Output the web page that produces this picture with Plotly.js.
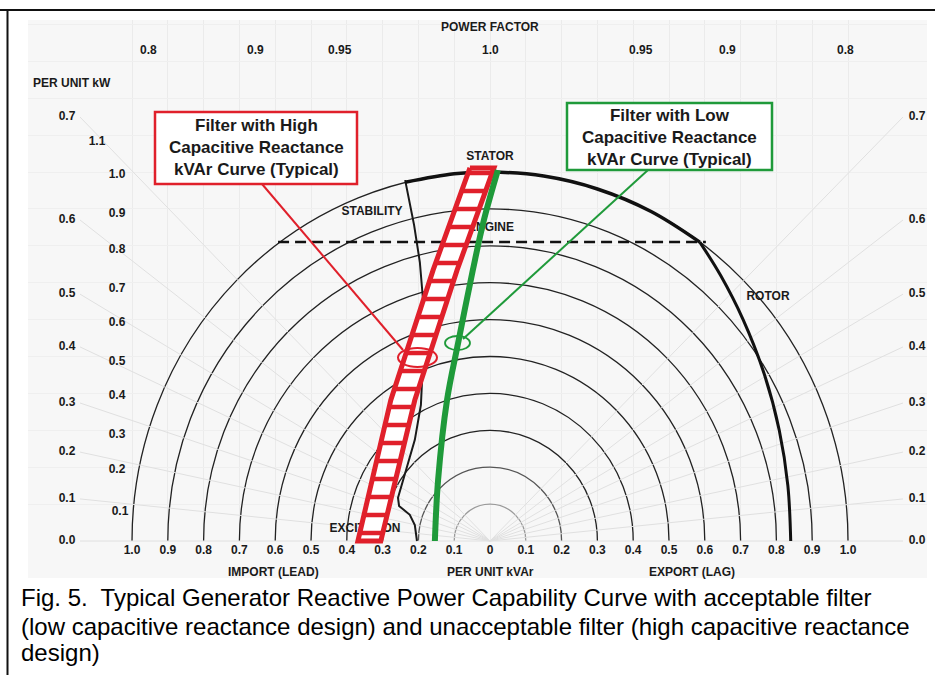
<!DOCTYPE html>
<html><head><meta charset="utf-8">
<script src="https://cdn.plot.ly/plotly-3.0.1.min.js"></script>
<style>html,body{margin:0;padding:0;background:#fff}#chart{width:935px;height:675px}</style>
</head><body><div id="chart"></div>
<script>
// ---------------- data (kVAr on x, kW on y, per unit) ----------------
const arcRadii = [0.1, 0.2, 0.3, 0.4, 0.5, 0.6, 0.7, 0.8, 0.9, 1.0];

const kvarTickVals = [-1.0, -0.9, -0.8, -0.7, -0.6, -0.5, -0.4, -0.3, -0.2, -0.1, 0, 0.1, 0.2, 0.3, 0.4, 0.5, 0.6, 0.7, 0.8, 0.9, 1.0];
const kvarTickText = ["1.0", "0.9", "0.8", "0.7", "0.6", "0.5", "0.4", "0.3", "0.2", "0.1", "0", "0.1", "0.2", "0.3", "0.4", "0.5", "0.6", "0.7", "0.8", "0.9", "1.0"];

const pfLabels = ["0.8", "0.9", "0.95", "1.0", "0.95", "0.9", "0.8"];
const pfLabelKvar = [-0.953, -0.654, -0.419, 0.0, 0.422, 0.662, 0.992];

const kwLabels = ["1.1", "1.0", "0.9", "0.8", "0.7", "0.6", "0.5", "0.4", "0.3", "0.2", "0.1"];
const kwLabelLevels = [1.081, 0.992, 0.886, 0.789, 0.683, 0.591, 0.485, 0.393, 0.287, 0.192, 0.079];

const sideLabels = ["0.7", "0.6", "0.5", "0.4", "0.3", "0.2", "0.1", "0.0"];
const sideLabelLevels = [1.149, 0.870, 0.669, 0.526, 0.374, 0.241, 0.114, 0.0];

const statorKvar = [-0.237, -0.10, 0.0, 0.15, 0.30, 0.45, 0.586];
const statorKw   = [0.972, 0.995, 1.0, 0.989, 0.954, 0.893, 0.810];

const rotorKvar = [0.586, 0.644, 0.707, 0.767, 0.808, 0.832, 0.840];
const rotorKw   = [0.810, 0.720, 0.600, 0.450, 0.300, 0.150, 0.0];

const stabilityKvar = [-0.237, -0.212, -0.196, -0.187, -0.187, -0.193, -0.210, -0.257, -0.254, -0.224, -0.210, -0.204];
const stabilityKw   = [0.978, 0.856, 0.756, 0.653, 0.491, 0.369, 0.274, 0.117, 0.095, 0.071, 0.043, 0.0];

const engineKvar = [-0.592, 0.603];
const engineKw   = [0.810, 0.810];

const lowFilterKvar = [0.022, -0.017, -0.048, -0.089, -0.120, -0.145, -0.154];
const lowFilterKw   = [1.005, 0.870, 0.734, 0.537, 0.382, 0.165, 0.0];

const highFilterKw        = [1.011, 0.734, 0.382, 0.0];
const highFilterLeftKvar  = [-0.056, -0.159, -0.277, -0.369];
const highFilterRightKvar = [0.011, -0.092, -0.210, -0.305];

// ---------------- layout helpers ----------------
const X0 = 490, Y0 = 541, SX = 358, SY = 369;          // pixel position of origin & pixel scale
const PL = 28, PR = 927, PT = 20, PB = 578;             // plot area in pixels
const xr = [(PL - X0) / SX, (PR - X0) / SX];
const yr = [(Y0 - PB) / SY, (Y0 - PT) / SY];
const dx = px => (px - X0) / SX, dy = py => (Y0 - py) / SY;
const paperX = px => (px - PL) / (PR - PL), paperY = py => (PB - py) / (PB - PT);

const RED = '#e0202b', GREEN = '#1f9a3a', INK = '#1a1a1a', BG = '#f7f7f7';
const FONT = 'Liberation Sans, Arial, sans-serif';
const bold11 = {family: FONT, size: 12, color: INK, weight: 'bold'};

const traces = [];

// faint radial lines toward the side labels
sideLabelLevels.forEach(L => {
  traces.push({x: [0, dx(80), null, 0, dx(903)], y: [0, L, null, 0, L], mode: 'lines',
    line: {color: '#e0e0e0', width: 1}, hoverinfo: 'skip', showlegend: false});
});

// text labels drawn under the curves
traces.push({x: kwLabels.map((t, i) => i === 0 ? dx(97) : (i === kwLabels.length - 1 ? dx(120) : dx(117))),
  y: kwLabelLevels, text: kwLabels, mode: 'text', textfont: bold11, showlegend: false, hoverinfo: 'skip'});
traces.push({x: sideLabels.map(() => dx(67)), y: sideLabelLevels, text: sideLabels, mode: 'text',
  textfont: bold11, showlegend: false, hoverinfo: 'skip'});
traces.push({x: sideLabels.map(() => dx(917)), y: sideLabelLevels, text: sideLabels, mode: 'text',
  textfont: bold11, showlegend: false, hoverinfo: 'skip', cliponaxis: true});
traces.push({x: [dx(372), dx(491), dx(768), dx(365), dx(490)],
  y: [dy(212), dy(228), dy(297), dy(529), dy(157)],
  text: ['STABILITY', 'ENGINE', 'ROTOR', 'EXCITATION', 'STATOR'], mode: 'text',
  textfont: bold11, showlegend: false, hoverinfo: 'skip'});

// capability limits
traces.push({x: stabilityKvar, y: stabilityKw, mode: 'lines', line: {color: INK, width: 2}, showlegend: false, hoverinfo: 'skip'});
traces.push({x: statorKvar, y: statorKw, mode: 'lines', line: {color: '#111', width: 3.5, shape: 'spline'}, showlegend: false, hoverinfo: 'skip'});
traces.push({x: rotorKvar, y: rotorKw, mode: 'lines', line: {color: '#111', width: 3, shape: 'spline'}, showlegend: false, hoverinfo: 'skip'});
traces.push({x: engineKvar, y: engineKw, mode: 'lines', line: {color: '#111', width: 2.5, dash: '11px,6px'}, showlegend: false, hoverinfo: 'skip'});

// high capacitive reactance filter band (hatched)
traces.push({
  x: highFilterLeftKvar.concat(highFilterRightKvar.slice().reverse(), [highFilterLeftKvar[0]]),
  y: highFilterKw.concat(highFilterKw.slice().reverse(), [highFilterKw[0]]),
  mode: 'lines', fill: 'toself', fillcolor: '#ffffff',
  fillpattern: {shape: '-', size: 18, solidity: 0.25, fgcolor: RED, bgcolor: '#ffffff', fillmode: 'replace'},
  line: {color: RED, width: 5}, showlegend: false, hoverinfo: 'skip'});

// low capacitive reactance filter curve
traces.push({x: lowFilterKvar, y: lowFilterKw, mode: 'lines', line: {color: GREEN, width: 6, shape: 'spline'}, showlegend: false, hoverinfo: 'skip'});

const shapes = [];
arcRadii.forEach(r => {
  shapes.push({type: 'circle', xref: 'x', yref: 'y', x0: -r, x1: r, y0: -r, y1: r, layer: 'between',
    line: {color: r < 0.15 ? '#9a9a9a' : (r < 0.25 ? '#555' : '#222'), width: 1.3}});
});
shapes.push({type: 'rect', xref: 'x', yref: 'y', x0: xr[0] - 0.2, x1: xr[1] + 0.2, y0: yr[0] - 0.2, y1: 0,
  fillcolor: BG, line: {width: 0}, layer: 'between'});
// callouts
shapes.push({type: 'line', xref: 'x', yref: 'y', x0: dx(262), y0: dy(184), x1: dx(403), y1: dy(350), line: {color: RED, width: 2}, layer: 'above'});
shapes.push({type: 'circle', xref: 'x', yref: 'y', x0: dx(398), x1: dx(437), y0: dy(367), y1: dy(348), line: {color: RED, width: 2}, layer: 'above'});
shapes.push({type: 'rect', xref: 'x', yref: 'y', x0: dx(155), x1: dx(357), y0: dy(184), y1: dy(112), fillcolor: '#ffffff', line: {color: RED, width: 2.5}, layer: 'above'});
shapes.push({type: 'line', xref: 'x', yref: 'y', x0: dx(648), y0: dy(170), x1: dx(463), y1: dy(339), line: {color: GREEN, width: 2}, layer: 'above'});
shapes.push({type: 'circle', xref: 'x', yref: 'y', x0: dx(445), x1: dx(470), y0: dy(350), y1: dy(336), line: {color: GREEN, width: 1.8}, layer: 'above'});
shapes.push({type: 'rect', xref: 'x', yref: 'y', x0: dx(567), x1: dx(772), y0: dy(170), y1: dy(103), fillcolor: '#ffffff', line: {color: GREEN, width: 2.5}, layer: 'above'});
// figure frame
shapes.push({type: 'line', xref: 'paper', yref: 'paper', x0: paperX(0), x1: paperX(935), y0: paperY(10), y1: paperY(10), line: {color: '#111', width: 2}});
shapes.push({type: 'line', xref: 'paper', yref: 'paper', x0: paperX(7.5), x1: paperX(7.5), y0: paperY(10), y1: paperY(675), line: {color: '#111', width: 2}});

const ann = [];
const boxFont = {family: FONT, size: 17, color: INK, weight: 'bold'};
ann.push({xref: 'x', yref: 'y', x: dx(256), y: dy(147), showarrow: false, font: boxFont,
  text: 'Filter with High<br>Capacitive Reactance<br>kVAr Curve (Typical)'});
ann.push({xref: 'x', yref: 'y', x: dx(669.5), y: dy(137.5), showarrow: false, font: boxFont,
  text: 'Filter with Low<br>Capacitive Reactance<br>kVAr Curve (Typical)'});
ann.push({xref: 'x', yref: 'y', x: 0, y: dy(27), showarrow: false, font: bold11, text: 'POWER FACTOR'});
pfLabels.forEach((t, i) => ann.push({xref: 'x', yref: 'y', x: pfLabelKvar[i], y: dy(50), showarrow: false, font: bold11, text: t}));
ann.push({xref: 'x', yref: 'y', x: dx(72), y: dy(83), showarrow: false, font: bold11, text: 'PER UNIT kW'});
ann.push({xref: 'x', yref: 'y', x: dx(273), y: dy(572), showarrow: false, font: bold11, text: 'IMPORT (LEAD)'});
ann.push({xref: 'x', yref: 'y', x: 0, y: dy(572), showarrow: false, font: bold11, text: 'PER UNIT kVAr'});
ann.push({xref: 'x', yref: 'y', x: dx(692), y: dy(572), showarrow: false, font: bold11, text: 'EXPORT (LAG)'});
const capFont = {family: FONT, size: 24, color: '#000'};
['Fig. 5.  Typical Generator Reactive Power Capability Curve with acceptable filter',
 '(low capacitive reactance design) and unacceptable filter (high capacitive reactance',
 'design)'].forEach((t, i) => ann.push({xref: 'paper', yref: 'paper', x: paperX(19), y: paperY([597, 626, 653][i]),
   xanchor: 'left', yanchor: 'middle', showarrow: false, font: capFont, text: t.replace(/  /g, '&nbsp; ')}));

const layout = {
  width: 935, height: 675,
  margin: {l: PL, r: 935 - PR, t: PT, b: 675 - PB, pad: 0},
  paper_bgcolor: '#ffffff', plot_bgcolor: BG,
  showlegend: false,
  xaxis: {range: xr, anchor: 'free', position: paperY(541), tickvals: kvarTickVals, ticktext: kvarTickText,
    ticks: '', showline: false, zeroline: false, showgrid: true, gridcolor: '#ebebeb', gridwidth: 1,
    tickfont: bold11, fixedrange: true},
  yaxis: {range: yr, showticklabels: false, ticks: '', showline: false, zeroline: false, showgrid: true,
    dtick: 0.1, tick0: 0, gridcolor: '#efefef', fixedrange: true},
  shapes: shapes, annotations: ann
};

Plotly.newPlot('chart', traces, layout, {staticPlot: true, displayModeBar: false});
</script>
</body></html>
